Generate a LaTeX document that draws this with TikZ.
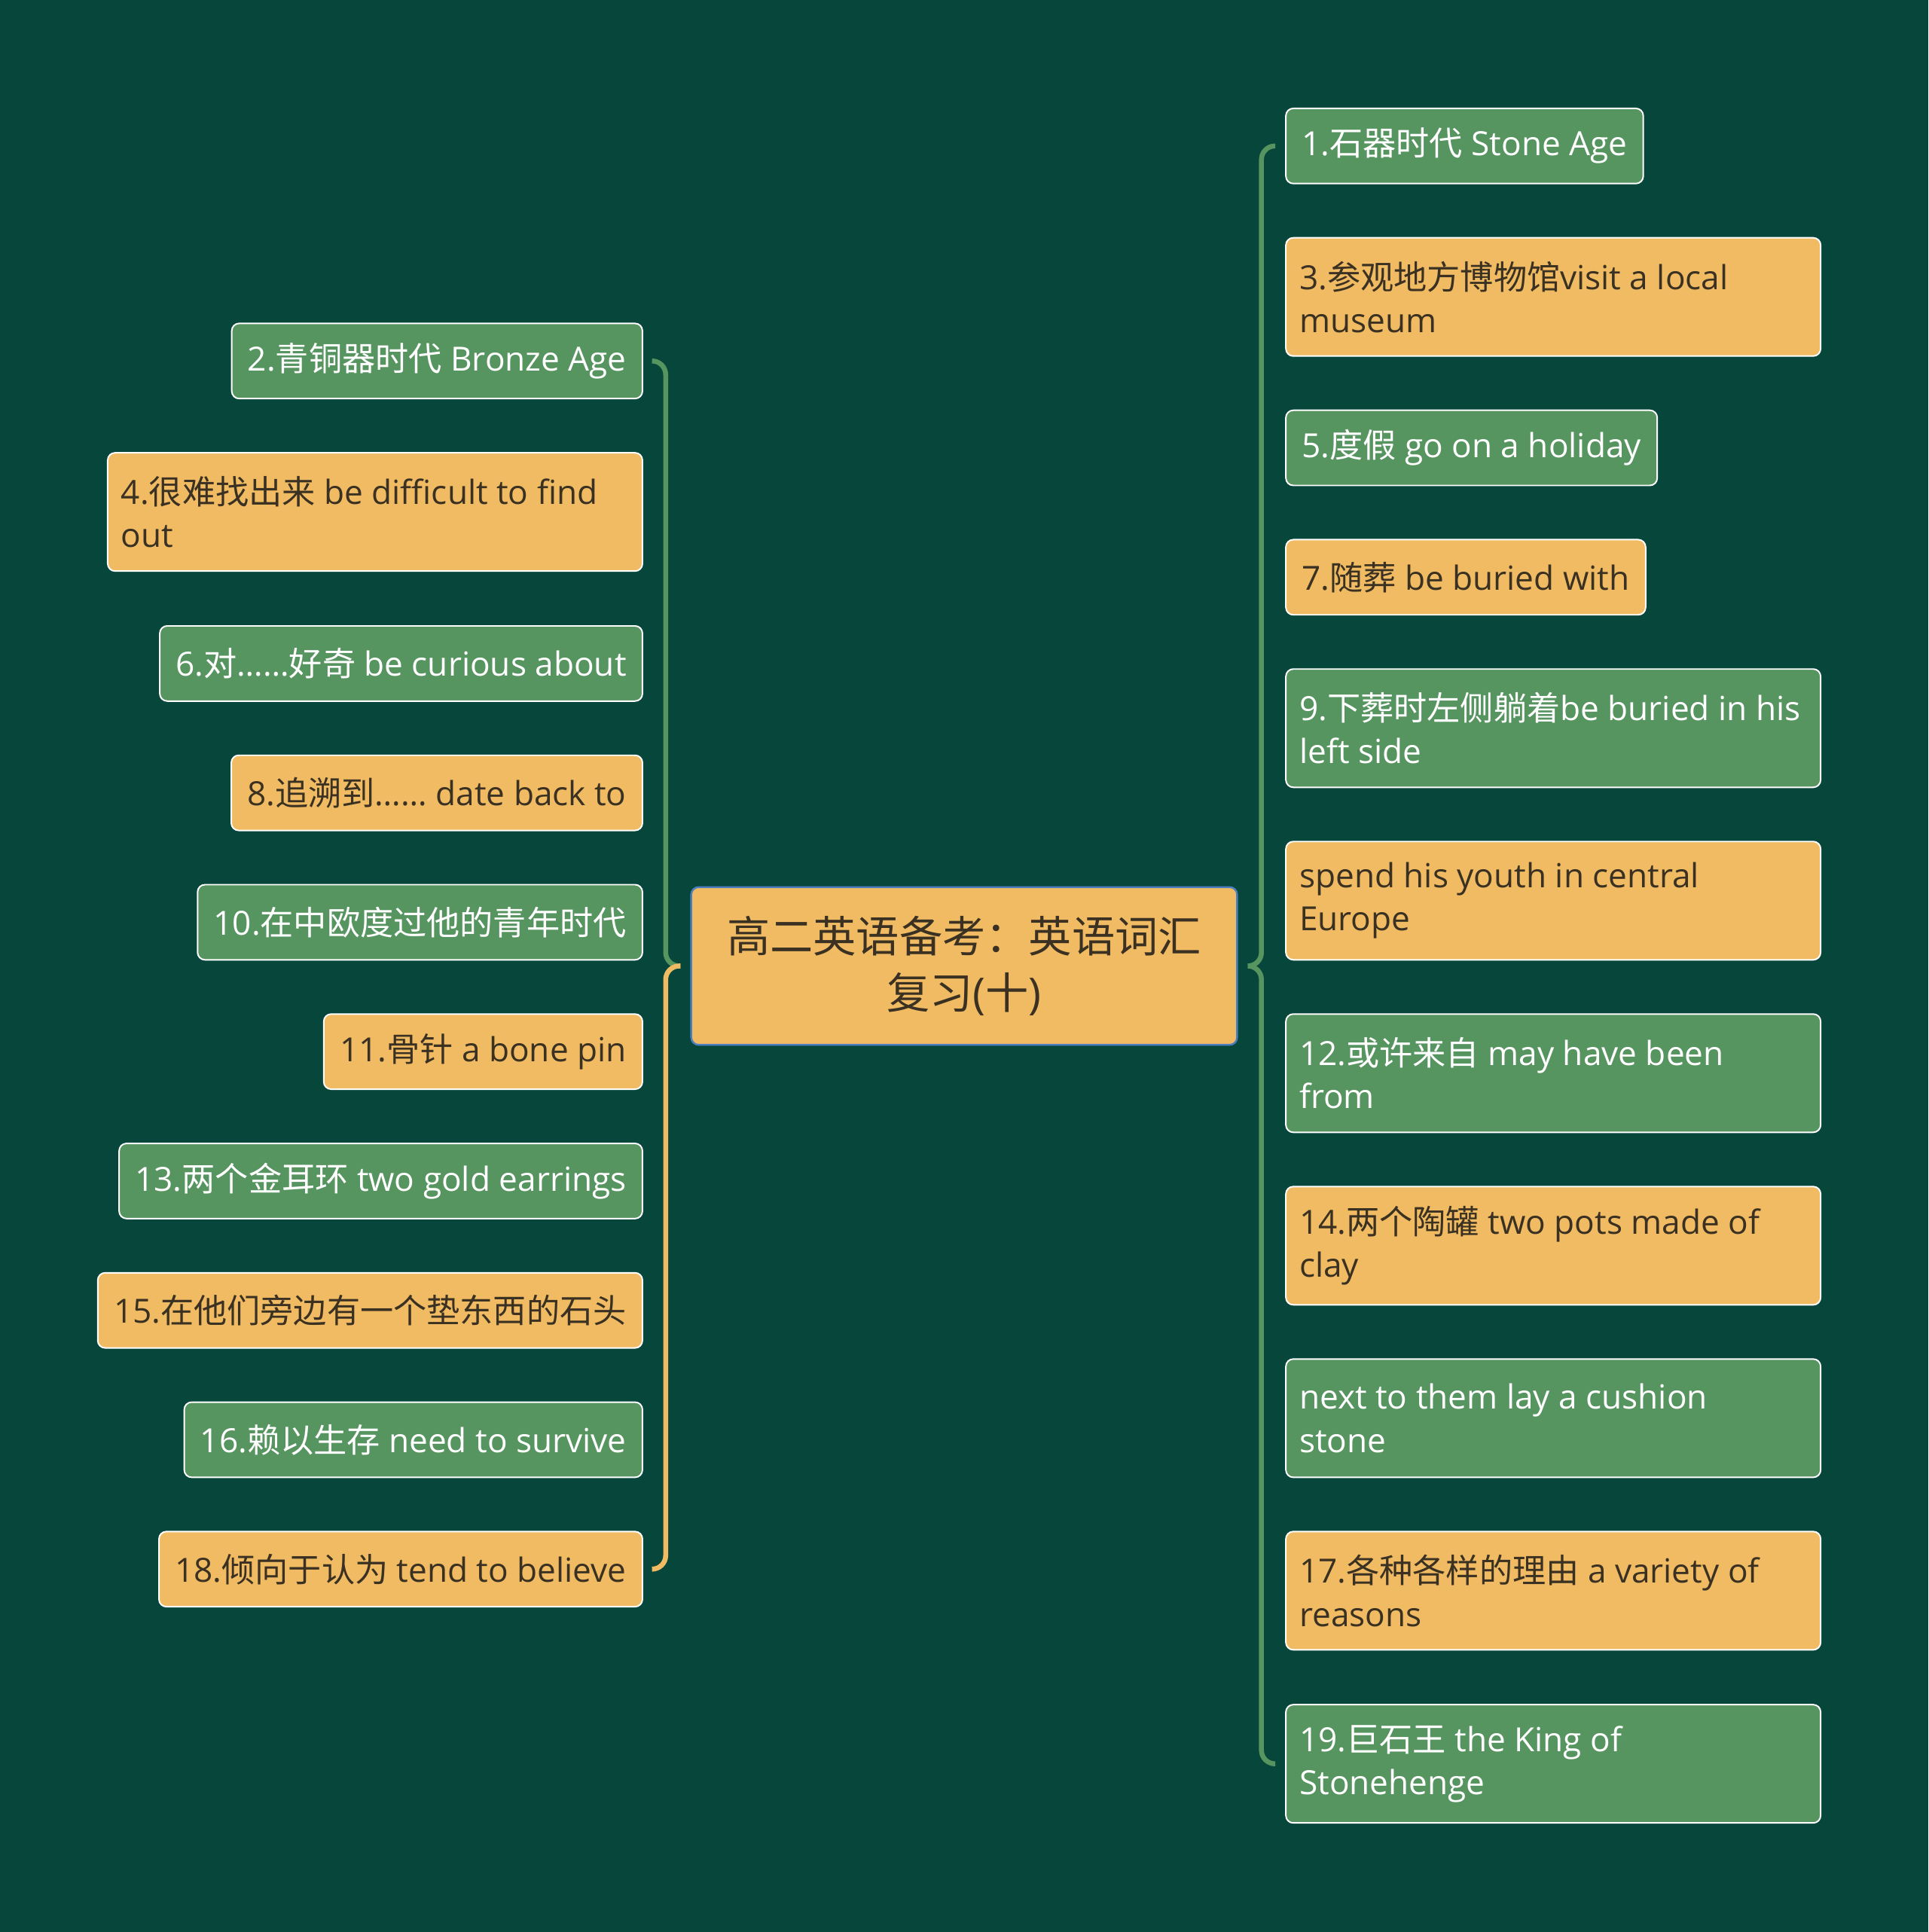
\documentclass[tikz,border=0pt]{standalone}
\usepackage{fontspec}
\setmainfont{Open Sans}
\newfontfamily\cjk{Noto Sans CJK SC}
\newcommand{\zh}[1]{{\cjk #1}}
\definecolor{bgcol}{HTML}{07463A}
\definecolor{leafgreen}{HTML}{569460}
\definecolor{leaforange}{HTML}{F0BB63}
\definecolor{inkdark}{HTML}{3A3122}
\definecolor{rootblue}{HTML}{4A7EC0}

\begin{document}
\begin{tikzpicture}[x=1pt,y=1pt]
    \tikzstyle{leaf}=[rectangle,rounded corners=6pt,draw=white,line width=1.2pt,inner xsep=13pt,align=flush left,minimum height=61pt,font=\fontsize{27}{35}\selectfont]
    \tikzstyle{gleaf}=[leaf,fill=leafgreen,text=white]
    \tikzstyle{oleaf}=[leaf,fill=leaforange,text=inkdark]
    \tikzstyle{gwide}=[gleaf,inner xsep=11pt,text width=412pt,minimum height=96pt]
    \tikzstyle{owide}=[oleaf,inner xsep=11pt,text width=412pt,minimum height=96pt]
    \tikzstyle{gline}=[draw=leafgreen,line width=4pt,rounded corners=11pt]
    \tikzstyle{oline}=[draw=leaforange,line width=4pt,rounded corners=11pt]

    \fill[bgcol] (0,0) rectangle (1565,1568);

    \node[rectangle,rounded corners=6pt,fill=leaforange,draw=rootblue,line width=1.5pt,
          minimum width=443pt,minimum height=128pt,align=center,text=inkdark,
          font=\fontsize{35}{46}\selectfont] (root) at (782.5,784)
          {\zh{高二英语备考：英语词汇}\\\zh{复习}(\zh{十})};

    % right side
    \foreach \num/\y/\kind/\txt in {
        1/1449.5/gleaf/{1.\zh{石器时代} Stone Age},
        3/1327/owide/{3.\zh{参观地方博物馆}visit a local\\museum},
        5/1204.5/gleaf/{5.\zh{度假} go on a holiday},
        7/1099.5/oleaf/{7.\zh{随葬} be buried with},
        9/977/gwide/{9.\zh{下葬时左侧躺着}be buried in his\\left side},
        a/837/owide/{spend his youth in central\\Europe},
        12/697/gwide/{12.\zh{或许来自} may have been\\from},
        14/557/owide/{14.\zh{两个陶罐} two pots made of\\clay},
        b/417/gwide/{next to them lay a cushion\\stone},
        17/277/owide/{17.\zh{各种各样的理由} a variety of\\reasons},
        19/136.5/gwide/{19.\zh{巨石王} the King of\\Stonehenge}}
            \node[\kind,anchor=west] (R-\num) at (1043,\y) {\txt};

    % left side
    \foreach \num/\y/\kind/\txt in {
        2/1275/gleaf/{2.\zh{青铜器时代} Bronze Age},
        4/1152.5/owide/{4.\zh{很难找出来} be difficult to find\\out},
        6/1029.5/gleaf/{6.\zh{对}……\zh{好奇} be curious about},
        8/924.5/oleaf/{8.\zh{追溯到}…… date back to},
        10/819.5/gleaf/{10.\zh{在中欧度过他的青年时代}},
        11/714.5/oleaf/{11.\zh{骨针} a bone pin},
        13/609.5/gleaf/{13.\zh{两个金耳环} two gold earrings},
        15/504.5/oleaf/{15.\zh{在他们旁边有一个垫东西的石头}},
        16/399.5/gleaf/{16.\zh{赖以生存} need to survive},
        18/294.5/oleaf/{18.\zh{倾向于认为} tend to believe}}
            \node[\kind,anchor=east] (L-\num) at (522,\y) {\txt};

    % braces
    \draw[gline] ([xshift=-8pt]R-1.west) -| ([xshift=19pt]root.east) -- ([xshift=8pt]root.east);
    \draw[gline] ([xshift=8pt]root.east) -- ([xshift=19pt]root.east) |- ([xshift=-8pt]R-19.west);
    \draw[gline] ([xshift=8pt]L-2.east) -| ([xshift=-20pt]root.west) -- ([xshift=-8pt]root.west);
    \draw[oline] ([xshift=-8pt]root.west) -- ([xshift=-20pt]root.west) |- ([xshift=8pt]L-18.east);
\end{tikzpicture}
\end{document}
